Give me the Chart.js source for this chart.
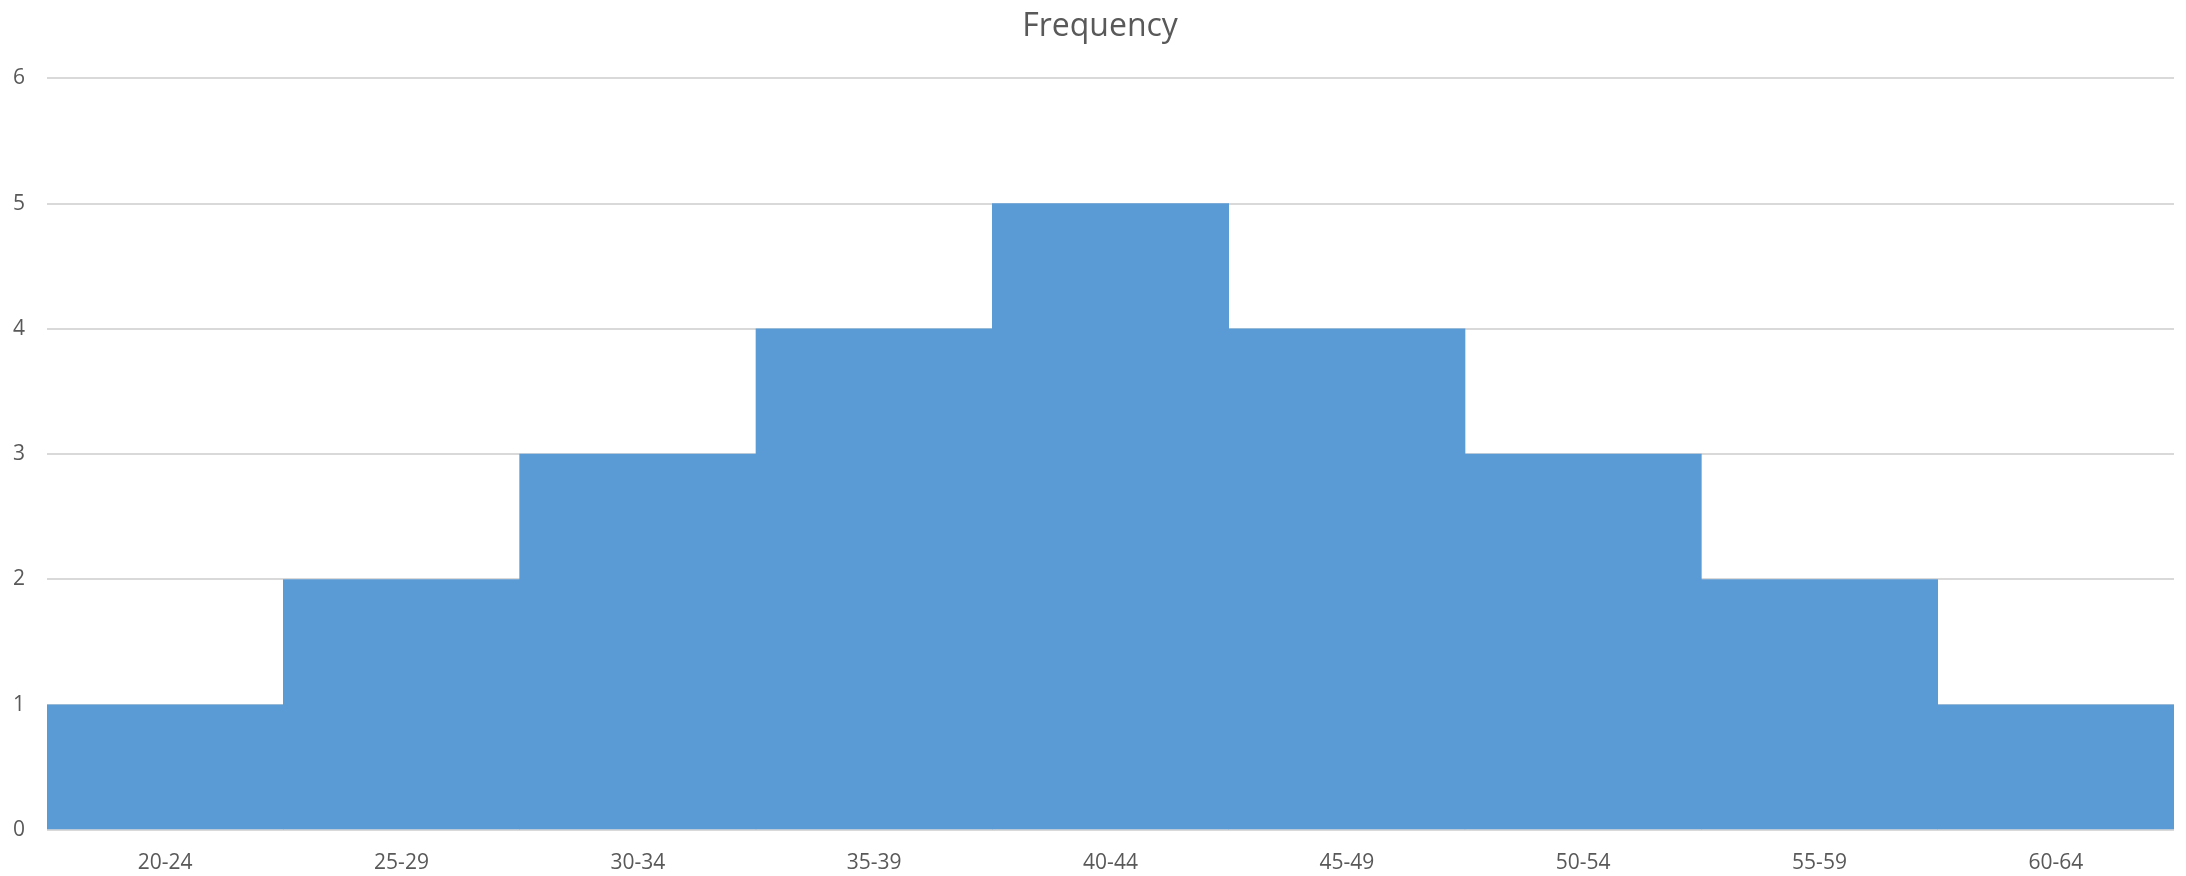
<!DOCTYPE html>
<html>
<head>
<meta charset="utf-8">
<script src="https://cdn.jsdelivr.net/npm/chart.js@4/dist/chart.umd.min.js"></script>
<style>
  html, body { margin: 0; padding: 0; background: #ffffff; }
  #wrap { width: 2186px; height: 876px; position: relative; }
</style>
</head>
<body>
<div id="wrap"><canvas id="chart"></canvas></div>
<script>
// Age groups and how many fall in each
const ageGroups = ['20-24', '25-29', '30-34', '35-39', '40-44', '45-49', '50-54', '55-59', '60-64'];
const frequency = [1, 2, 3, 4, 5, 4, 3, 2, 1];
const yTicks = [0, 1, 2, 3, 4, 5, 6];

const textColor = '#595959';
const gridColor = '#d9d9d9';

// Center the title over the plot plus the tick-label gutter midpoint
const titleInset = {
  id: 'titleInset',
  afterLayout(chart) {
    if (chart.titleBlock) chart.titleBlock.left += 26;
  }
};

new Chart(document.getElementById('chart'), {
  type: 'bar',
  data: {
    labels: ageGroups,
    datasets: [{
      label: 'Frequency',
      data: frequency,
      backgroundColor: '#5b9bd5',
      borderWidth: 0,
      barPercentage: 1.0,
      categoryPercentage: 1.0
    }]
  },
  plugins: [titleInset],
  options: {
    responsive: true,
    maintainAspectRatio: false,
    animation: false,
    layout: { padding: { left: 0, right: 12, top: 0, bottom: 0 } },
    plugins: {
      legend: { display: false },
      tooltip: { enabled: false },
      title: {
        display: true,
        text: 'Frequency',
        color: textColor,
        font: { family: 'Open Sans', size: 32, weight: 'normal' },
        padding: { top: 8, bottom: 32 }
      }
    },
    scales: {
      x: {
        grid: { display: false, drawTicks: false },
        border: { display: false },
        ticks: {
          color: textColor,
          font: { family: 'Open Sans', size: 21 },
          padding: 20,
          maxRotation: 0
        },
        afterFit: (s) => { s.height = 46; }
      },
      y: {
        min: 0,
        max: 6,
        afterBuildTicks: (s) => { s.ticks = yTicks.map(v => ({ value: v })); },
        grid: { color: gridColor, lineWidth: 2, drawTicks: false },
        border: { display: false },
        ticks: {
          color: textColor,
          font: { family: 'Open Sans', size: 21 },
          padding: 22
        },
        afterFit: (s) => { s.width = 47; }
      }
    }
  }
});
</script>
</body>
</html>
